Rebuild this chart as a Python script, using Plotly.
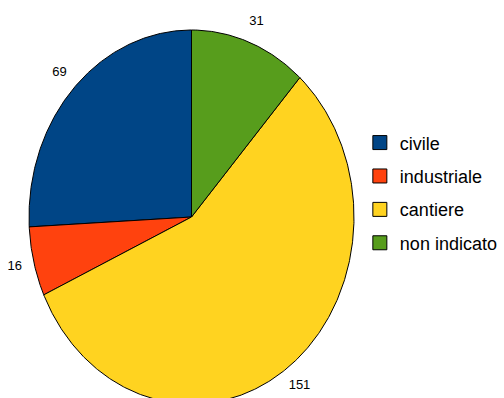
import numpy as np
import plotly.graph_objects as go

categories = ["civile", "industriale", "cantiere", "non indicato"]
values = [69, 16, 151, 31]
colors = ["#004586", "#ff420e", "#ffd320", "#579d1c"]

W, H = 504, 398
# pie geometry in pixels (elliptical pie)
cx, cy = 191.5, 217.0
rx, ry = 162.5, 187.0
label_r = 1.12

fig = go.Figure()

total = float(sum(values))
start = 0.0  # degrees, counter-clockwise from 12 o'clock
for name, v, col in zip(categories, values, colors):
    span = 360.0 * v / total
    t = np.radians(np.linspace(start, start + span, max(int(span * 2), 4)))
    xs = np.concatenate([[0.0], -np.sin(t), [0.0]])
    ys = np.concatenate([[0.0], np.cos(t), [0.0]])
    fig.add_trace(go.Scatter(
        x=xs, y=ys, mode="lines", fill="toself", fillcolor=col,
        line=dict(color="#000000", width=1), showlegend=False,
        hoverinfo="skip",
    ))
    mid = np.radians(start + span / 2)
    fig.add_trace(go.Scatter(
        x=[-label_r * np.sin(mid)], y=[label_r * np.cos(mid)],
        mode="text", text=[str(v)], textposition="middle center",
        textfont=dict(family="Liberation Sans, Arial, sans-serif", size=13, color="#000000"),
        showlegend=False, hoverinfo="skip",
    ))
    start += span

# legend entries
for i, (name, col) in enumerate(zip(categories, colors)):
    fig.add_trace(go.Scatter(
        x=[None], y=[None], mode="markers", name=name, legendgroup=f"g{i}",
        marker=dict(symbol="square", size=14, color=col,
                    line=dict(color="#000000", width=1)),
    ))

fig.update_layout(
    width=W, height=H,
    margin=dict(l=0, r=0, t=0, b=0, pad=0, autoexpand=False),
    paper_bgcolor="#ffffff", plot_bgcolor="#ffffff",
    xaxis=dict(range=[-cx / rx, (W - cx) / rx], visible=False, fixedrange=True),
    yaxis=dict(range=[-(H - cy) / ry, cy / ry], visible=False, fixedrange=True),
    legend=dict(
        x=0.714, y=0.6875, xanchor="left", yanchor="top",
        font=dict(family="Liberation Sans, Arial, sans-serif", size=18, color="#000000"),
        tracegroupgap=7, itemwidth=30, bgcolor="rgba(0,0,0,0)",
    ),
    showlegend=True,
)

fig.write_html("out.html")
